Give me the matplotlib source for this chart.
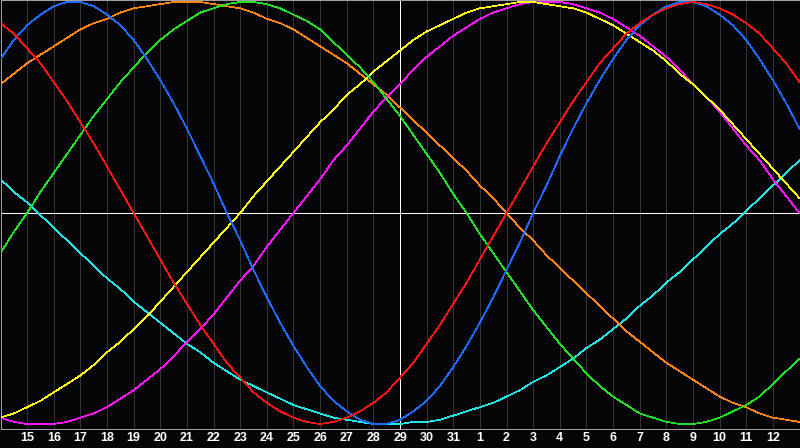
import matplotlib
matplotlib.use("Agg")
import matplotlib.pyplot as plt

# Day labels on the grid lines (today = 29, in the middle)
day_labels = [str(d) for d in range(15, 32)] + [str(d) for d in range(1, 13)]
# sample positions: every half day, from the left edge (0) to the right edge (30)
t = [i / 2 for i in range(61)]

# Cycle values per half day (-1 .. 1)
blue = [0.73, 0.82, 0.89, 0.94, 0.98, 1.00, 1.00, 0.98, 0.94, 0.89, 0.82, 0.73, 0.63, 0.52, 0.40, 0.27,
        0.14, 0.00, -0.13, -0.27, -0.40, -0.52, -0.63, -0.73, -0.82, -0.89, -0.94, -0.98, -1.00, -1.00,
        -0.98, -0.94, -0.89, -0.82, -0.73, -0.63, -0.52, -0.40, -0.27, -0.14, 0.00, 0.13, 0.27, 0.40,
        0.52, 0.63, 0.73, 0.82, 0.89, 0.94, 0.98, 1.00, 1.00, 0.98, 0.94, 0.89, 0.82, 0.73, 0.63, 0.52, 0.40]
red = [0.90, 0.85, 0.78, 0.71, 0.62, 0.53, 0.43, 0.33, 0.22, 0.11, 0.00, -0.11, -0.22, -0.33, -0.43, -0.53,
       -0.62, -0.71, -0.78, -0.85, -0.90, -0.94, -0.97, -0.99, -1.00, -0.99, -0.97, -0.94, -0.90, -0.85,
       -0.78, -0.71, -0.62, -0.53, -0.43, -0.33, -0.22, -0.11, 0.00, 0.11, 0.22, 0.33, 0.43, 0.53,
       0.62, 0.71, 0.78, 0.85, 0.90, 0.94, 0.97, 0.99, 1.00, 0.99, 0.97, 0.94, 0.90, 0.85, 0.78, 0.71, 0.62]
green = [-0.19, -0.09, 0.00, 0.10, 0.19, 0.28, 0.37, 0.46, 0.54, 0.62, 0.69, 0.76, 0.82, 0.87, 0.91, 0.95,
         0.97, 0.99, 1.00, 1.00, 0.99, 0.97, 0.94, 0.91, 0.87, 0.81, 0.75, 0.69, 0.62, 0.54,
         0.46, 0.37, 0.28, 0.19, 0.09, 0.00, -0.10, -0.19, -0.28, -0.37, -0.46, -0.54, -0.62, -0.69,
         -0.76, -0.82, -0.87, -0.91, -0.95, -0.97, -0.99, -1.00, -1.00, -0.99, -0.97, -0.94, -0.91, -0.87, -0.81, -0.75, -0.69]
magenta = [-0.97, -0.99, -1.00, -1.00, -1.00, -0.99, -0.97, -0.95, -0.92, -0.88, -0.84, -0.79, -0.74, -0.68, -0.61, -0.55,
           -0.48, -0.40, -0.32, -0.25, -0.16, -0.08, 0.00, 0.08, 0.16, 0.25, 0.32, 0.40, 0.48, 0.55,
           0.61, 0.68, 0.74, 0.79, 0.84, 0.88, 0.92, 0.95, 0.97, 0.99, 1.00, 1.00, 1.00, 0.99,
           0.97, 0.95, 0.92, 0.88, 0.84, 0.79, 0.74, 0.68, 0.61, 0.55, 0.48, 0.40, 0.32, 0.25, 0.16, 0.08, 0.00]
yellow = [-0.97, -0.95, -0.92, -0.89, -0.85, -0.81, -0.77, -0.72, -0.66, -0.61, -0.55, -0.49, -0.42, -0.35, -0.28, -0.21,
          -0.14, -0.07, 0.00, 0.08, 0.15, 0.22, 0.29, 0.36, 0.43, 0.49, 0.56, 0.61, 0.67, 0.72,
          0.77, 0.82, 0.86, 0.89, 0.92, 0.95, 0.97, 0.98, 0.99, 1.00, 1.00, 0.99, 0.98, 0.97,
          0.95, 0.92, 0.89, 0.85, 0.81, 0.77, 0.72, 0.66, 0.61, 0.55, 0.49, 0.42, 0.35, 0.28, 0.21, 0.14, 0.07]
orange = [0.61, 0.66, 0.71, 0.75, 0.79, 0.83, 0.87, 0.90, 0.92, 0.95, 0.97, 0.98, 0.99, 1.00, 1.00, 1.00,
          0.99, 0.98, 0.97, 0.95, 0.92, 0.90, 0.87, 0.83, 0.79, 0.75, 0.71, 0.66, 0.61, 0.56,
          0.50, 0.44, 0.38, 0.32, 0.26, 0.20, 0.13, 0.07, 0.00, -0.07, -0.13, -0.20, -0.26, -0.32,
          -0.38, -0.44, -0.50, -0.56, -0.61, -0.66, -0.71, -0.75, -0.79, -0.83, -0.87, -0.90, -0.92, -0.95, -0.97, -0.98, -0.99]
cyan = [0.16, 0.10, 0.05, -0.01, -0.07, -0.13, -0.19, -0.25, -0.31, -0.36, -0.42, -0.47, -0.52, -0.57, -0.62, -0.66,
        -0.71, -0.75, -0.79, -0.82, -0.85, -0.88, -0.91, -0.93, -0.95, -0.97, -0.98, -0.99, -1.00, -1.00,
        -1.00, -0.99, -0.99, -0.98, -0.96, -0.94, -0.92, -0.90, -0.87, -0.84, -0.80, -0.77, -0.73, -0.69,
        -0.64, -0.60, -0.55, -0.50, -0.44, -0.39, -0.33, -0.28, -0.22, -0.16, -0.10, -0.05, 0.01, 0.07, 0.13, 0.19, 0.25]

series = [
    (cyan, "#22e6e6"),
    (orange, "#ff8410"),
    (magenta, "#ff14ff"),
    (yellow, "#ffff14"),
    (green, "#22e022"),
    (blue, "#1c6cff"),
    (red, "#ff1414"),
]

BG = "#050508"
W, H = 800, 448
fig = plt.figure(figsize=(W / 100, H / 100), dpi=100, facecolor=BG)
ax = fig.add_axes([0.5 / W, 19.5 / H, 799 / W, 428 / H], facecolor=BG)

ax.set_xlim(0, 30)
ax.set_ylim(-1.0213, 1.0071)

ax.set_xticks(range(1, 30))
ax.set_xticklabels(day_labels)
ax.set_yticks([])
ax.tick_params(axis="x", length=0, pad=2.5, colors="white", labelsize=9)
for lab in ax.get_xticklabels():
    lab.set_fontfamily("Liberation Sans")
    lab.set_fontweight("bold")

ax.grid(axis="x", color="#333336", linewidth=0.72, antialiased=False)
ax.set_axisbelow(True)

for s in ax.spines.values():
    s.set_color("#a0a0a0")
    s.set_linewidth(0.72)

ax.axhline(0, color="white", linewidth=0.72, antialiased=False, zorder=2)
ax.axvline(15, color="white", linewidth=0.72, antialiased=False, zorder=2)

for vals, col in series:
    ax.plot(t, vals, color=col, linewidth=0.5, antialiased=False, zorder=3)

fig.savefig("out.png", dpi=100, facecolor=BG)
